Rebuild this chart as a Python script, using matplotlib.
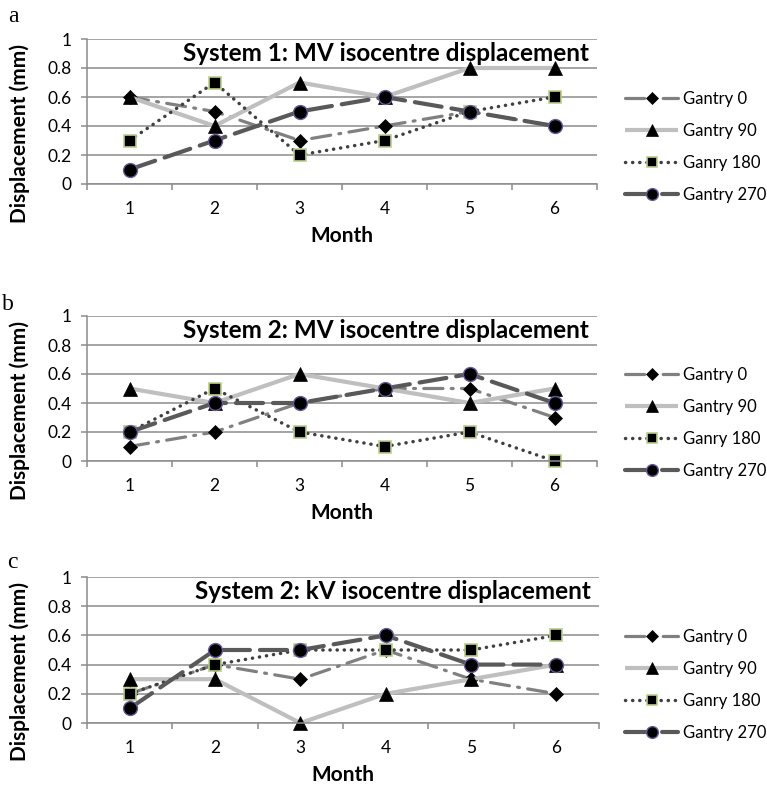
import matplotlib
matplotlib.use("Agg")
import matplotlib.pyplot as plt
from matplotlib.ticker import FixedLocator, NullFormatter

# ====== DATA ======
months = [1, 2, 3, 4, 5, 6]
series_names = ["Gantry 0", "Gantry 90", "Ganry 180", "Gantry 270"]
panel_letters = ["a", "b", "c"]
panel_titles = ["System 1: MV isocentre displacement",
                "System 2: MV isocentre displacement",
                "System 2: kV isocentre displacement"]
y_ticks = [0, 0.2, 0.4, 0.6, 0.8, 1]
y_tick_labels = ["0", "0.2", "0.4", "0.6", "0.8", "1"]

# System 1 MV
a_g0 = [0.6, 0.5, 0.3, 0.4, 0.5, 0.4]
a_g90 = [0.6, 0.4, 0.7, 0.6, 0.8, 0.8]
a_g180 = [0.3, 0.7, 0.2, 0.3, 0.5, 0.6]
a_g270 = [0.1, 0.3, 0.5, 0.6, 0.5, 0.4]

# System 2 MV
b_g0 = [0.1, 0.2, 0.4, 0.5, 0.5, 0.3]
b_g90 = [0.5, 0.4, 0.6, 0.5, 0.4, 0.5]
b_g180 = [0.2, 0.5, 0.2, 0.1, 0.2, 0.0]
b_g270 = [0.2, 0.4, 0.4, 0.5, 0.6, 0.4]

# System 2 kV
c_g0 = [0.2, 0.4, 0.3, 0.5, 0.3, 0.2]
c_g90 = [0.3, 0.3, 0.0, 0.2, 0.3, 0.4]
c_g180 = [0.2, 0.4, 0.5, 0.5, 0.5, 0.6]
c_g270 = [0.1, 0.5, 0.5, 0.6, 0.4, 0.4]

panel_data = [[a_g0, a_g90, a_g180, a_g270],
              [b_g0, b_g90, b_g180, b_g270],
              [c_g0, c_g90, c_g180, c_g270]]

# ====== STYLE ======
FONT = ["Lato", "DejaVu Sans"]
plt.rcParams["font.family"] = FONT
GRID = "#8c8c8c"

styles = [
    dict(color="#808080", lw=2.3, ls=(0, (6, 2.6, 0.6, 2.6)), marker="D", ms=7.5,
         mfc="black", mec="black", mew=0.5),
    dict(color="#bfbfbf", lw=3.0, ls="-", marker="^", ms=10,
         mfc="black", mec="black", mew=0.5),
    dict(color="#404040", lw=2.5, ls=(0, (0.05, 2.0)), marker="s", ms=9,
         mfc="black", mec="#b9cf8c", mew=1.2),
    dict(color="#595959", lw=3.0, ls=(0, (6.5, 2.4)), marker="o", ms=10,
         mfc="black", mec="#6a5a9a", mew=1.0),
]

W, H = 767, 791
fig = plt.figure(figsize=(W / 100, H / 100), dpi=100)

# axes boxes in pixels: (left, top, right, bottom)
boxes = [(87, 39, 597, 184), (87, 316, 597, 461), (87, 577, 599, 723)]
letter_pos = [(13, 17), (8, 305), (12, 562)]
legend_mid = [147, 423, 685]

for i, (l, t, r, b) in enumerate(boxes):
    ax = fig.add_axes([l / W, 1 - b / H, (r - l) / W, (b - t) / H])
    for name, vals, st in zip(series_names, panel_data[i], styles):
        ax.plot(months, vals, label=name, color=st["color"], lw=st["lw"],
                ls=st["ls"], marker=st["marker"], ms=st["ms"],
                mfc=st["mfc"], mec=st["mec"], mew=st["mew"],
                dash_capstyle="round", solid_capstyle="butt", clip_on=False)
    ax.set_xlim(0.5, 6.5)
    ax.set_ylim(0, 1)
    ax.set_yticks(y_ticks)
    ax.set_yticklabels(y_tick_labels)
    ax.set_xticks(months)
    ax.set_xticklabels([str(m) for m in months])
    ax.xaxis.set_minor_locator(FixedLocator([0.5 + k for k in range(7)]))
    ax.xaxis.set_minor_formatter(NullFormatter())
    ax.tick_params(axis="x", which="major", length=0, pad=12, labelsize=12.5,
                   colors="black")
    ax.tick_params(axis="x", which="minor", length=4, width=1.1, color=GRID)
    ax.tick_params(axis="y", length=4, width=1.1, color=GRID, pad=7,
                   labelsize=12.5, labelcolor="black")
    ax.grid(axis="y", color=GRID, lw=1.1)
    ax.set_axisbelow(True)
    for side in ["top", "right"]:
        ax.spines[side].set_visible(False)
    for side in ["left", "bottom"]:
        ax.spines[side].set_color(GRID)
        ax.spines[side].set_linewidth(1.1)

    ax.set_xlabel("Month", fontsize=15, fontweight="bold", labelpad=7)
    ax.set_ylabel("Displacement (mm)", fontsize=15, fontweight="bold")
    ax.yaxis.set_label_coords(-0.112, 0.35)

    ax.text(0.985, 0.9, panel_titles[i], transform=ax.transAxes, ha="right",
            va="center", fontsize=17.5, fontweight="bold")

    lx, ly = letter_pos[i]
    fig.text(lx / W, 1 - ly / H, panel_letters[i], ha="center", va="center",
             fontsize=17, family=["Liberation Serif", "DejaVu Serif"])

    ax.legend(loc="center left", bbox_to_anchor=(625 / W, 1 - legend_mid[i] / H),
              bbox_transform=fig.transFigure, frameon=False, fontsize=12,
              borderpad=0, borderaxespad=0, handlelength=3.2, handletextpad=0.3,
              labelspacing=0.95, markerscale=0.85)

fig.savefig("out.png", dpi=100)
